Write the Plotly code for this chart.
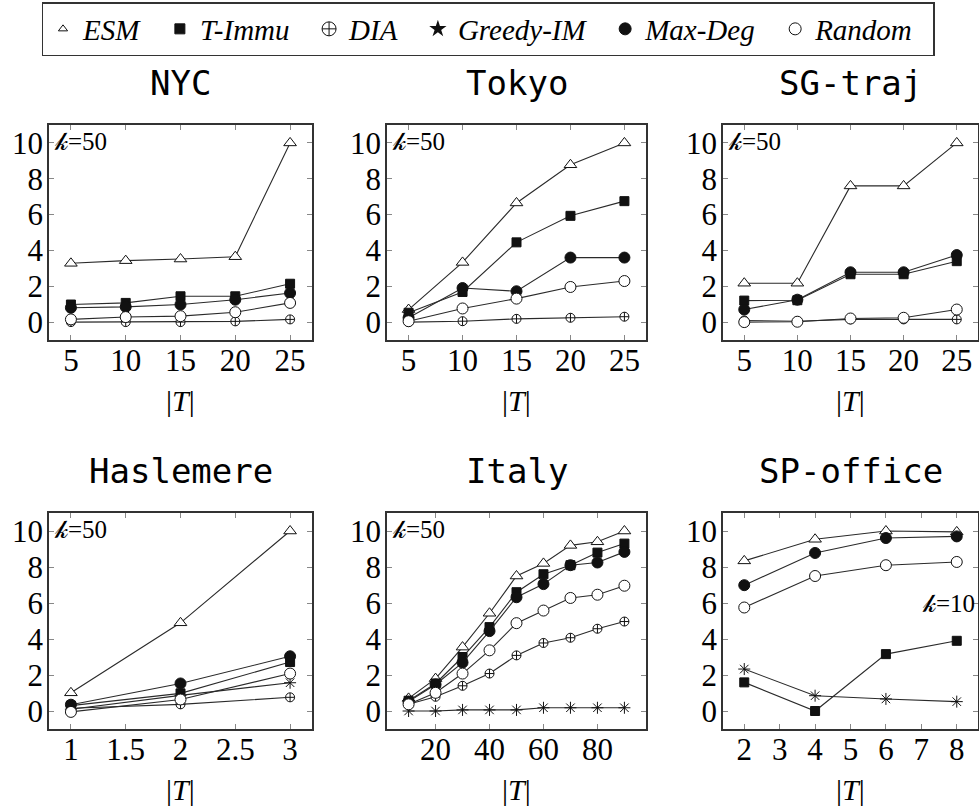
import plotly.graph_objects as go

W, H = 979, 807

# ---------------- data ----------------
series_names = ["ESM", "T-Immu", "DIA", "Greedy-IM", "Max-Deg", "Random"]

panel_titles = ["NYC", "Tokyo", "SG-traj", "Haslemere", "Italy", "SP-office"]
k_labels = ["=50", "=50", "=50", "=50", "=50", "=10"]

x_nyc = [5, 10, 15, 20, 25]
nyc_esm = [3.28, 3.43, 3.52, 3.65, 10.0]
nyc_timmu = [0.98, 1.07, 1.44, 1.44, 2.14]
nyc_dia = [0.0, 0.0, 0.0, 0.04, 0.15]
nyc_maxdeg = [0.80, 0.85, 0.98, 1.25, 1.62]
nyc_random = [0.15, 0.28, 0.33, 0.55, 1.07]

x_tokyo = [5, 10, 15, 20, 25]
tokyo_esm = [0.70, 3.33, 6.65, 8.78, 10.0]
tokyo_timmu = [0.52, 1.68, 4.45, 5.93, 6.75]
tokyo_dia = [0.0, 0.05, 0.18, 0.24, 0.30]
tokyo_maxdeg = [0.24, 1.90, 1.72, 3.60, 3.60]
tokyo_random = [0.05, 0.76, 1.31, 1.96, 2.29]

x_sg = [5, 10, 15, 20, 25]
sg_esm = [2.17, 2.17, 7.60, 7.60, 10.0]
sg_timmu = [1.20, 1.22, 2.67, 2.67, 3.40]
sg_dia = [0.09, 0.05, 0.15, 0.15, 0.15]
sg_maxdeg = [0.70, 1.25, 2.78, 2.78, 3.74]
sg_random = [0.0, 0.02, 0.20, 0.24, 0.70]

x_has = [1, 2, 3]
has_esm = [1.01, 4.90, 10.0]
has_timmu = [0.30, 0.98, 2.72]
has_dia = [0.15, 0.37, 0.76]
has_greedy = [0.10, 0.87, 1.57]
has_maxdeg = [0.35, 1.53, 3.04]
has_random = [-0.05, 0.64, 2.08]

x_italy = [10, 20, 30, 40, 50, 60, 70, 80, 90]
italy_esm = [0.70, 1.80, 3.55, 5.43, 7.50, 8.20, 9.20, 9.40, 10.0]
italy_timmu = [0.57, 1.53, 3.00, 4.66, 6.60, 7.60, 8.10, 8.80, 9.30]
italy_dia = [0.37, 0.79, 1.40, 2.08, 3.09, 3.78, 4.07, 4.57, 4.97]
italy_greedy = [0.0, 0.0, 0.06, 0.06, 0.06, 0.18, 0.18, 0.18, 0.18]
italy_maxdeg = [0.52, 1.47, 2.69, 4.44, 6.32, 7.05, 8.10, 8.25, 8.84]
italy_random = [0.37, 1.01, 2.08, 3.37, 4.88, 5.58, 6.28, 6.46, 6.96]

x_sp = [2, 4, 6, 8]
sp_esm = [8.34, 9.54, 10.0, 9.95]
sp_timmu = [1.59, 0.0, 3.16, 3.90]
sp_greedy = [2.33, 0.85, 0.67, 0.52]
sp_maxdeg = [6.99, 8.78, 9.61, 9.70]
sp_random = [5.75, 7.50, 8.10, 8.28]

y_ticks = [0, 2, 4, 6, 8, 10]
x_ticks_top = [5, 10, 15, 20, 25]
x_ticks_has = [1, 1.5, 2, 2.5, 3]
x_ticks_italy = [20, 40, 60, 80]
x_ticks_sp = [2, 3, 4, 5, 6, 7, 8]

panels = [
    (x_nyc, {"ESM": nyc_esm, "T-Immu": nyc_timmu, "DIA": nyc_dia,
             "Max-Deg": nyc_maxdeg, "Random": nyc_random}, x_ticks_top, [3, 27]),
    (x_tokyo, {"ESM": tokyo_esm, "T-Immu": tokyo_timmu, "DIA": tokyo_dia,
               "Max-Deg": tokyo_maxdeg, "Random": tokyo_random}, x_ticks_top, [3, 27]),
    (x_sg, {"ESM": sg_esm, "T-Immu": sg_timmu, "DIA": sg_dia,
            "Max-Deg": sg_maxdeg, "Random": sg_random}, x_ticks_top, [3, 27]),
    (x_has, {"ESM": has_esm, "T-Immu": has_timmu, "DIA": has_dia, "Greedy-IM": has_greedy,
             "Max-Deg": has_maxdeg, "Random": has_random}, x_ticks_has, [0.8, 3.2]),
    (x_italy, {"ESM": italy_esm, "T-Immu": italy_timmu, "DIA": italy_dia, "Greedy-IM": italy_greedy,
               "Max-Deg": italy_maxdeg, "Random": italy_random}, x_ticks_italy, [2, 98]),
    (x_sp, {"ESM": sp_esm, "T-Immu": sp_timmu, "Greedy-IM": sp_greedy,
            "Max-Deg": sp_maxdeg, "Random": sp_random}, x_ticks_sp, [1.4, 8.6]),
]

# ---------------- styles ----------------
INK = "#111111"
marker_style = {
    "ESM": dict(symbol="triangle-up", color="white", size=11, line=dict(color=INK, width=1)),
    "T-Immu": dict(symbol="square", color=INK, size=9, line=dict(color=INK, width=1)),
    "DIA": dict(symbol="circle-cross", color="white", size=9, line=dict(color=INK, width=1)),
    "Greedy-IM": dict(symbol="asterisk-open", color=INK, size=10, line=dict(color=INK, width=1)),
    "Max-Deg": dict(symbol="circle", color=INK, size=11, line=dict(color=INK, width=1)),
    "Random": dict(symbol="circle", color="white", size=11, line=dict(color=INK, width=1)),
}
legend_style = {
    "ESM": dict(symbol="triangle-up", color="white", size=8, line=dict(color=INK, width=1)),
    "T-Immu": dict(symbol="square", color=INK, size=10, line=dict(color=INK, width=1)),
    "DIA": dict(symbol="circle-cross", color="white", size=14, line=dict(color=INK, width=1)),
    "Greedy-IM": dict(symbol="star", color=INK, size=13, line=dict(color=INK, width=0)),
    "Max-Deg": dict(symbol="circle", color=INK, size=12, line=dict(color=INK, width=1)),
    "Random": dict(symbol="circle", color="white", size=12, line=dict(color=INK, width=1)),
}

# pixel layout of the six plot areas (left, right, top, bottom)
cols = [(49, 312), (387, 646), (723, 978)]
rows = [(125, 340), (513, 729)]

TICK_FONT = dict(family="Liberation Serif", size=31, color="black")

fig = go.Figure()

annotations = []
for i, (xs, data, xt, xr) in enumerate(panels):
    r, c = divmod(i, 3)
    suffix = "" if i == 0 else str(i + 1)
    xa, ya = "x" + suffix, "y" + suffix
    for name in series_names:
        if name not in data:
            continue
        fig.add_trace(go.Scatter(
            x=xs, y=data[name], mode="lines+markers", name=name,
            xaxis=xa, yaxis=ya, showlegend=False,
            line=dict(color="#2a2a2a", width=1.1),
            marker=marker_style[name],
        ))
    l, rr = cols[c]
    t, b = rows[r]
    axis_common = dict(
        showgrid=False, zeroline=False, showline=True, linecolor="#333333", linewidth=1.5,
        mirror="ticks", ticks="inside", ticklen=5, tickcolor="#888888", tickwidth=1,
        tickfont=TICK_FONT, automargin=False,
    )
    fig.update_layout(**{
        ("xaxis" + suffix): dict(domain=[l / W, rr / W], range=xr, tickvals=xt,
                                 anchor=ya, ticklabelstandoff=-8, **axis_common),
        ("yaxis" + suffix): dict(domain=[1 - b / H, 1 - t / H], range=[-1, 11], tickvals=y_ticks,
                                 anchor=xa, ticklabelstandoff=-2, **axis_common),
    })
    # panel title
    annotations.append(dict(
        text=panel_titles[i], xref="paper", yref="paper",
        x=(l + rr) / 2 / W, y=1 - (t - 42) / H, xanchor="center", yanchor="middle",
        showarrow=False, font=dict(family="DejaVu Sans Mono", size=34, color="black"),
    ))
    # |T| axis label
    annotations.append(dict(
        text="|<i>T</i>|", xref="paper", yref="paper",
        x=(l + rr) / 2 / W, y=1 - (b + 60) / H, xanchor="center", yanchor="middle",
        showarrow=False, font=dict(family="Liberation Serif", size=30, color="black"),
    ))
    # k annotation
    if i == 5:
        annotations.append(dict(
            text="𝓀" + k_labels[i], xref=xa + " domain", yref=ya,
            x=0.995, y=6.0, xanchor="right", yanchor="middle", showarrow=False,
            font=dict(family="Liberation Serif", size=25, color="black"),
        ))
    else:
        annotations.append(dict(
            text="𝓀" + k_labels[i], xref=xa + " domain", yref=ya,
            x=0.01, y=10.1, xanchor="left", yanchor="middle", showarrow=False,
            font=dict(family="Liberation Serif", size=25, color="black"),
        ))

# legend-only traces (markers only, like the reference legend)
for name in series_names:
    fig.add_trace(go.Scatter(
        x=[None], y=[None], mode="markers", name=name + "\u00a0\u00a0", showlegend=True,
        marker=legend_style[name], xaxis="x", yaxis="y",
    ))

fig.update_layout(
    width=W, height=H,
    margin=dict(l=0, r=0, t=0, b=0),
    paper_bgcolor="white", plot_bgcolor="white",
    annotations=annotations,
    legend=dict(
        orientation="h", x=488 / W, xanchor="center", y=1 - 2 / H, yanchor="top",
        bordercolor="#333333", borderwidth=1.5, bgcolor="white",
        font=dict(family="Liberation Serif", size=29, color="black", style="italic"),
        itemwidth=30, tracegroupgap=0,
    ),
)

fig.write_html("out.html")
